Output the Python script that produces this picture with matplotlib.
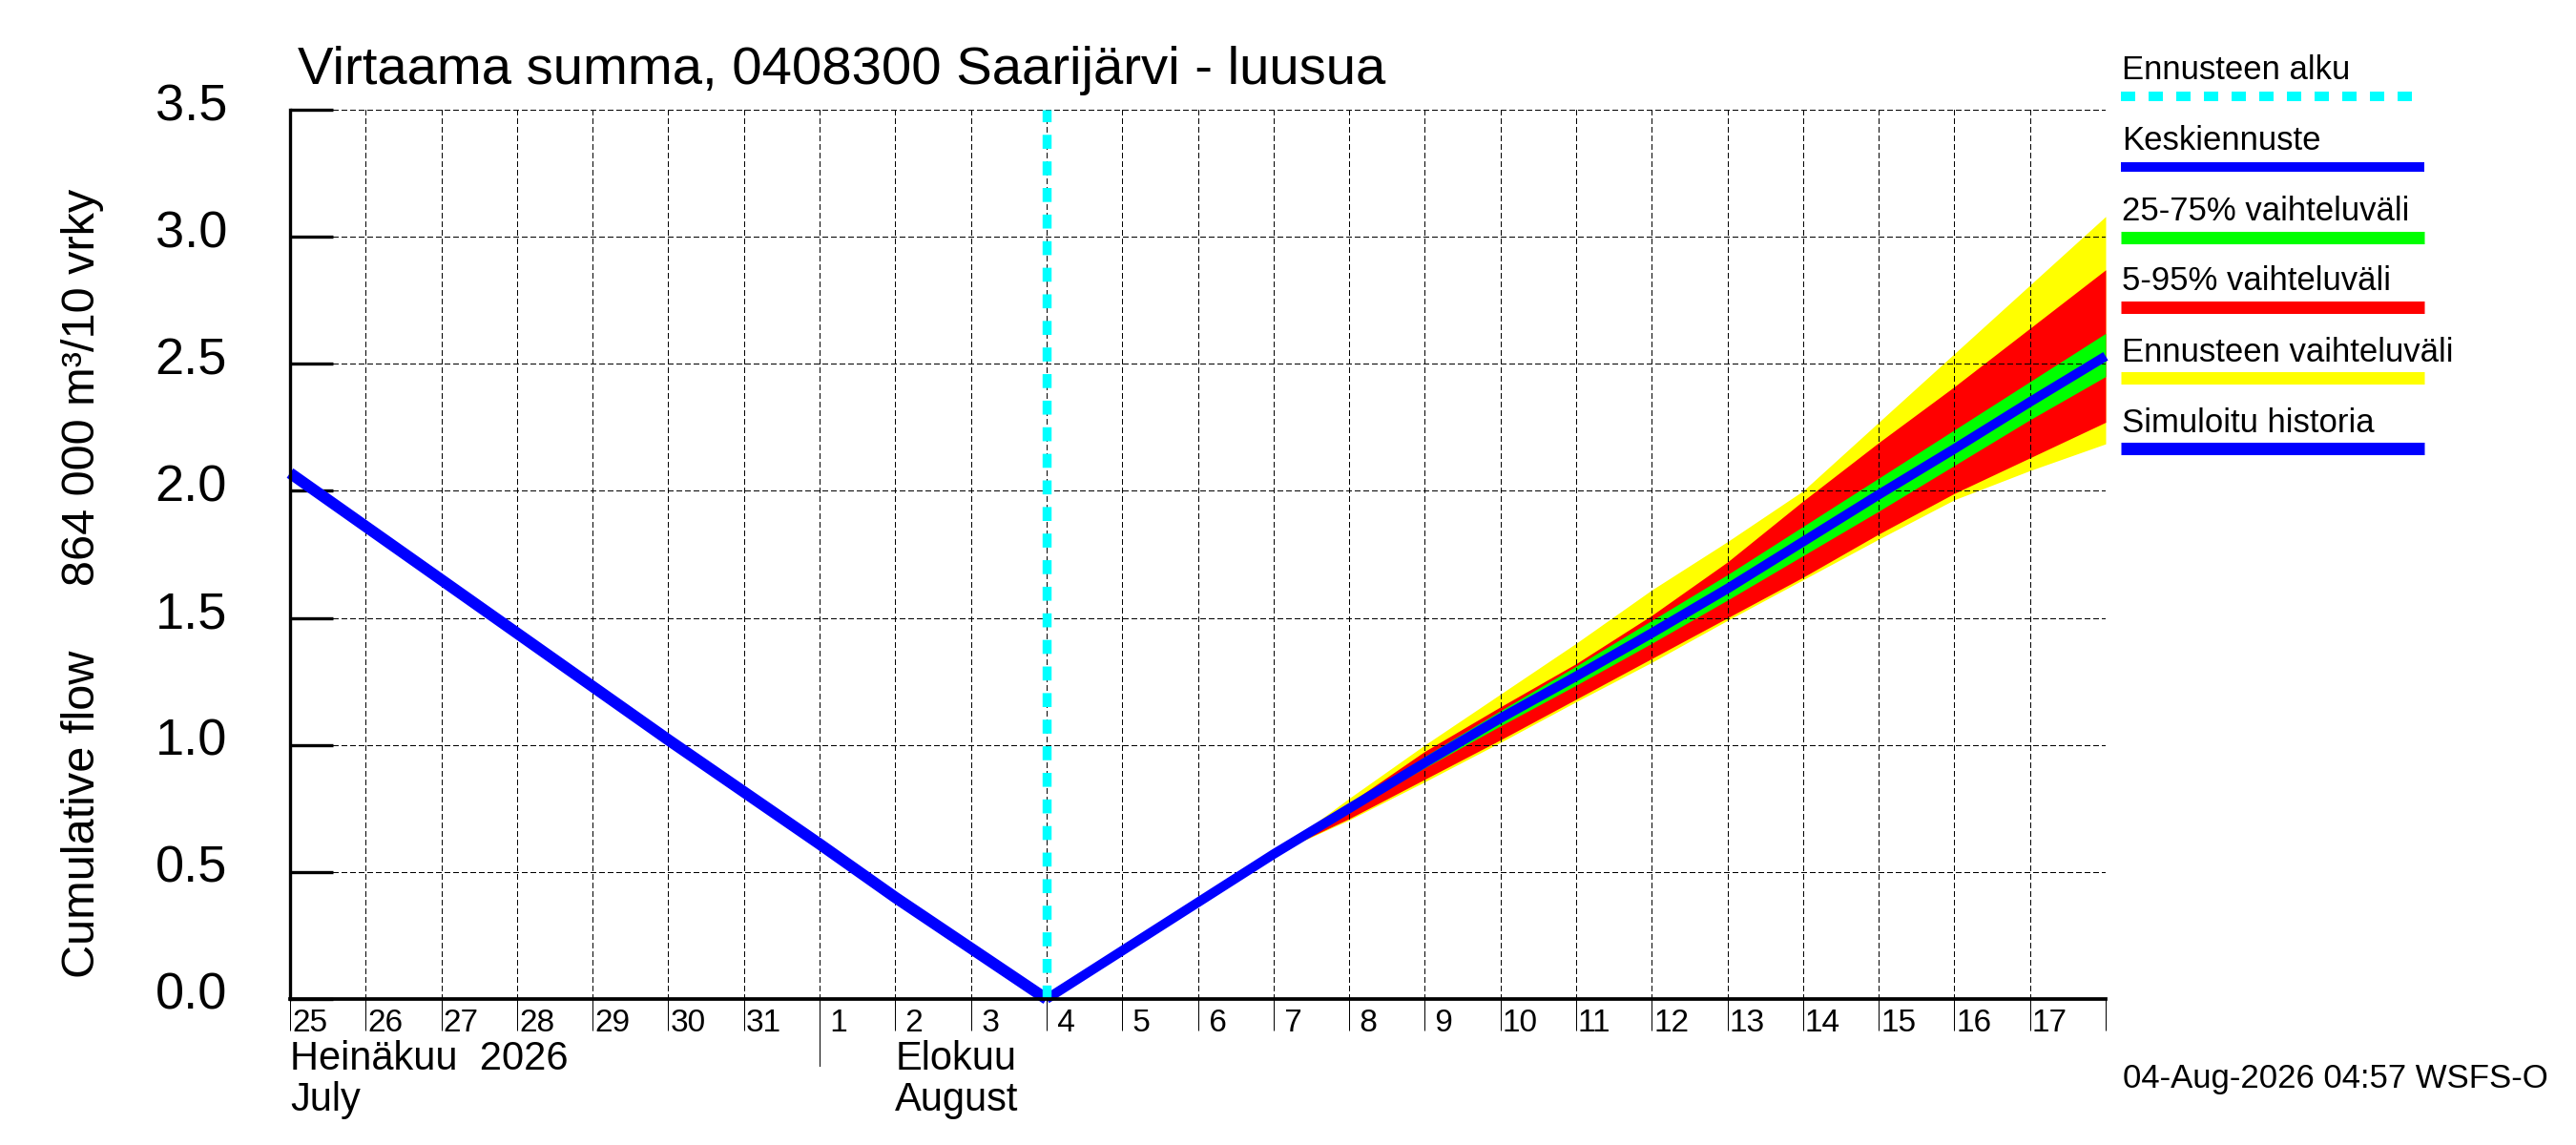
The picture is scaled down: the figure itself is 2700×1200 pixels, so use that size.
import datetime as dt
import matplotlib
matplotlib.use('Agg')
import matplotlib.pyplot as plt
from matplotlib.lines import Line2D
from matplotlib.transforms import offset_copy

plt.rcParams['font.family'] = ['Liberation Sans', 'DejaVu Sans']

# simulated history (cumulative flow counted back from forecast start)
hist_days = [dt.datetime(2026, 7, 25) + dt.timedelta(days=i) for i in range(11)]
hist_flow = [2.07, 1.86, 1.65, 1.44, 1.23, 1.02, 0.815, 0.61, 0.40, 0.20, 0.0]

# forecast, daily from Aug 4
fc_days = [dt.datetime(2026, 8, 4) + dt.timedelta(days=i) for i in range(15)]
fc_mean = [0.0, 0.19, 0.38, 0.57, 0.75, 0.93, 1.105, 1.27, 1.44, 1.615, 1.80, 1.985, 2.165, 2.35, 2.53]
fc_p25 = [0.0, 0.19, 0.38, 0.57, 0.74, 0.91, 1.075, 1.235, 1.40, 1.57, 1.745, 1.92, 2.10, 2.28, 2.45]
fc_p75 = [0.0, 0.19, 0.38, 0.57, 0.76, 0.955, 1.135, 1.31, 1.49, 1.67, 1.86, 2.05, 2.24, 2.43, 2.62]
fc_p5 = [0.0, 0.19, 0.38, 0.57, 0.71, 0.865, 1.02, 1.18, 1.34, 1.50, 1.66, 1.83, 1.99, 2.13, 2.27]
fc_p95 = [0.0, 0.19, 0.38, 0.57, 0.77, 0.975, 1.15, 1.32, 1.51, 1.72, 1.96, 2.19, 2.41, 2.64, 2.87]
fc_min = [0.0, 0.19, 0.38, 0.57, 0.705, 0.855, 1.01, 1.17, 1.325, 1.49, 1.65, 1.81, 1.965, 2.08, 2.185]
fc_max = [0.0, 0.19, 0.38, 0.57, 0.79, 1.0, 1.20, 1.40, 1.61, 1.80, 2.0, 2.27, 2.54, 2.81, 3.08]

forecast_start = dt.datetime(2026, 8, 4)
x_start = dt.datetime(2026, 7, 25)
x_end = dt.datetime(2026, 8, 18)

y_ticks = [0.0, 0.5, 1.0, 1.5, 2.0, 2.5, 3.0, 3.5]

title = 'Virtaama summa, 0408300 Saarijärvi - luusua'
ylabel = 'Cumulative flow     864 000 m³/10 vrky'
stamp = '04-Aug-2026 04:57 WSFS-O'
months = [(dt.datetime(2026, 7, 25), 'Heinäkuu  2026', 'July'),
          (dt.datetime(2026, 8, 2), 'Elokuu', 'August')]
legend_labels = ['Ennusteen alku', 'Keskiennuste', '25-75% vaihteluväli',
                 '5-95% vaihteluväli', 'Ennusteen vaihteluväli', 'Simuloitu historia']

W, H = 2700, 1200
fig = plt.figure(figsize=(27, 12), dpi=100)
ax = fig.add_axes([304 / W, 153 / H, 1903 / W, 932 / H])

# bands
ax.fill_between(fc_days, fc_min, fc_max, color='#ffff00', lw=0, zorder=1)
ax.fill_between(fc_days, fc_p5, fc_p95, color='#ff0000', lw=0, zorder=1.1)
ax.fill_between(fc_days, fc_p25, fc_p75, color='#00ff00', lw=0, zorder=1.2)

ax.plot(hist_days, hist_flow, color='#0000ff', lw=8.6, solid_capstyle='butt', clip_on=False, zorder=3)
ax.plot(fc_days, fc_mean, color='#0000ff', lw=7.2, solid_capstyle='butt', clip_on=False, zorder=3)
ax.axvline(forecast_start, color='#00ffff', lw=6.8, dashes=(1.55, 1.4), zorder=4)

ax.set_xlim(x_start, x_end)
ax.set_ylim(0, 3.5)

days = [x_start + dt.timedelta(days=i) for i in range(25)]
ax.set_xticks(days)
ax.set_yticks(y_ticks)
ax.tick_params(axis='x', direction='out', length=23.8, width=0.72, labelbottom=False)
ax.tick_params(axis='y', direction='in', length=32.4, width=2.4, labelleft=False)

ax.grid(True, color='black', lw=0.75, ls=(0, (5, 3)), antialiased=False)
ax.set_axisbelow('line')
for s in ['top', 'right']:
    ax.spines[s].set_visible(False)
ax.spines['left'].set_linewidth(2.4)
ax.spines['bottom'].set_linewidth(2.7)
for s in ['left', 'bottom']:
    ax.spines[s].set_zorder(5)

# y tick labels
ytrans = offset_copy(ax.get_yaxis_transform(), fig=fig, x=-66, y=3, units='dots')
for v in y_ticks:
    ax.text(0, v, f'{v:.1f}', transform=ytrans, ha='right', va='center', fontsize=39)

# day labels
xtrans = offset_copy(ax.get_xaxis_transform(), fig=fig, x=2, y=-10, units='dots')
for d in days[:-1]:
    ax.text(d, 0, f'{d.day:2d}', transform=xtrans, ha='left', va='top', fontsize=24)

# month separator tick
ax.plot([dt.datetime(2026, 8, 1)] * 2, [0, -70 / 932], transform=ax.get_xaxis_transform(),
        color='black', lw=0.72, clip_on=False)

for d, fi, en in months:
    ax.text(d, -74 / 932, fi, transform=ax.get_xaxis_transform(), ha='left', va='baseline', fontsize=30)
    ax.text(d, -117 / 932, en, transform=ax.get_xaxis_transform(), ha='left', va='baseline', fontsize=30)

fig.text(312 / W, 1 - 88 / H, title, fontsize=40.5, va='baseline')
fig.text(86.5 / W, 1 - 611 / H, ylabel, rotation=90, ha='center', va='center', fontsize=35)
fig.text(2225 / W, 1 - 1140 / H, stamp, fontsize=25, va='baseline')

# legend on the right
text_base = [83, 157, 231, 304, 379, 453]
line_y = [101, 175, 249, 322, 396, 470]
line_col = ['#00ffff', '#0000ff', '#00ff00', '#ff0000', '#ffff00', '#0000ff']
line_w = [7.2, 7.2, 9.4, 9.4, 9.4, 9.4]
for i, lab in enumerate(legend_labels):
    fig.text(2224 / W, 1 - text_base[i] / H, lab, fontsize=25, va='baseline')
    ln = Line2D([2223 / W, 2541 / W], [1 - line_y[i] / H] * 2, transform=fig.transFigure,
                color=line_col[i], lw=line_w[i], solid_capstyle='butt', dash_capstyle='butt')
    if i == 0:
        ln.set_dashes((1.5, 1.4))
    fig.add_artist(ln)

fig.savefig('out.png', dpi=100)
